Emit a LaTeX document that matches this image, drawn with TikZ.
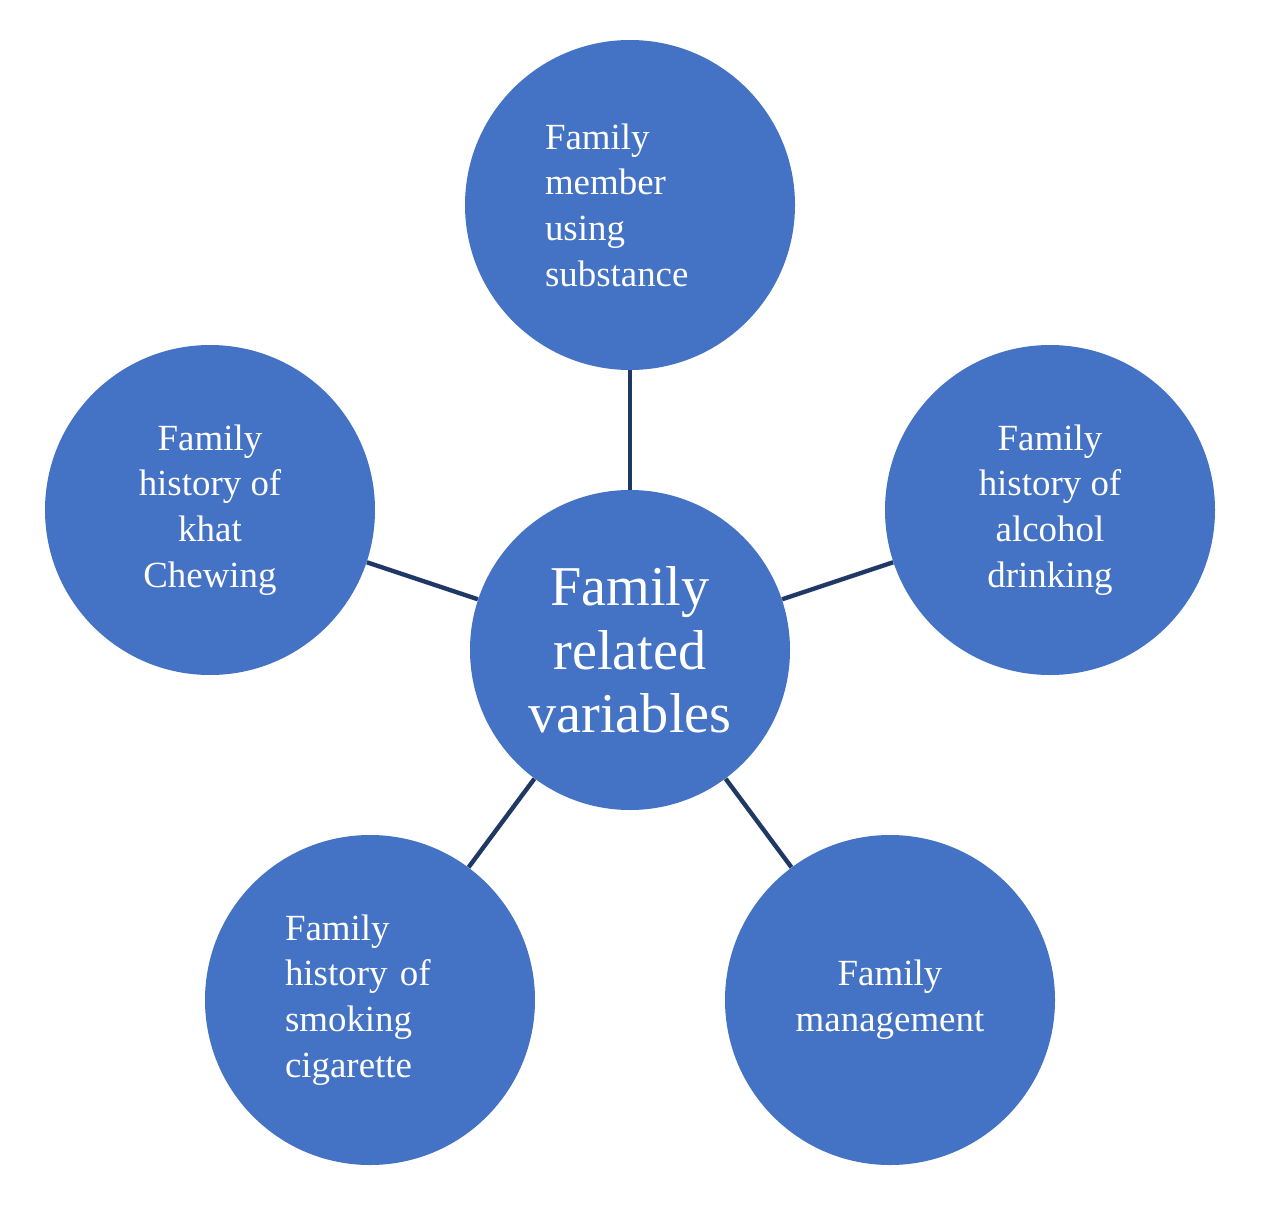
\documentclass[tikz,border=0pt]{standalone}
\usepackage{fontspec}
\setmainfont{Liberation Serif}
\usetikzlibrary{positioning}
\definecolor{bubble}{HTML}{4472C4}
\definecolor{spoke}{HTML}{1F3864}
\begin{document}
\begin{tikzpicture}[
					bubble/.style={circle, fill=bubble, text=white, inner sep=0pt, minimum size=6.6cm, font=\fontsize{21}{26}\selectfont},
					hub/.style={bubble, minimum size=6.4cm, font=\fontsize{32}{36}\selectfont, align=center},
					spoke/.style={draw=spoke, line width=2.5pt},
				]
					\useasboundingbox (0,0) rectangle (25.6,-24.16);
					\node[hub] (hub) at (12.6,-13) {Family\\related\\variables};
					\node[bubble, text width=3.4cm, align=left] (user) at (12.6,-4.1) {Family\\member\\using\\substance};
					\node[bubble, align=center] (khat) at (4.2,-10.2) {Family\\history of\\khat\\Chewing};
					\node[bubble, align=center] (alcohol) at (21,-10.2) {Family\\history of\\alcohol\\drinking};
					\node[bubble, text width=3.4cm, align=left] (smoke) at (7.4,-20) {Family\\history of\\smoking\\cigarette};
					\node[bubble, align=center] (manage) at (17.8,-20) {Family\\management};
					
					\draw[spoke] (hub) -- (user);
					\draw[spoke] (hub) -- (khat);
					\draw[spoke] (hub) -- (alcohol);
					\draw[spoke] (hub) -- (smoke);
					\draw[spoke] (hub) -- (manage);
				\end{tikzpicture}
\end{document}
